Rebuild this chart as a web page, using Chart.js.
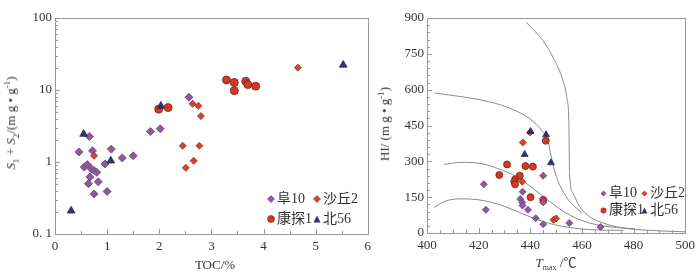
<!DOCTYPE html>
<html>
<head>
<meta charset="utf-8">
<script src="https://cdn.jsdelivr.net/npm/chart.js@4.4.0/dist/chart.umd.min.js"></script>
<style>
  body { margin: 0; background: #fff; }
  #wrap { position: relative; width: 700px; height: 280px; overflow: hidden;
          font-family: "Liberation Serif", "Noto Sans CJK SC", serif; color: #333; }
  canvas { position: absolute; top: 0; }
  .t { position: absolute; font-size: 13px; white-space: nowrap; line-height: 1; }
  .rot { transform: translate(-50%, -50%) rotate(-90deg); }
  .lg { position: absolute; display: flex; align-items: center; white-space: nowrap; line-height: 1; }
  .lg svg { margin-right: 2px; }
  i { font-style: italic; }
</style>
</head>
<body>
<div id="wrap">
  <canvas id="left" width="376" height="280" style="left:0"></canvas>
  <canvas id="right" width="324" height="280" style="left:376px"></canvas>

  <div class="t rot" style="left:12px; top:123px;"><i>S</i><sub style="font-size:9px">1</sub> + <i>S</i><sub style="font-size:9px">2</sub>/(m g • g<sup style="font-size:9px">-1</sup>)</div>
  <div class="t" style="left:215px; top:264px; transform:translate(-50%,-50%);">TOC/%</div>

  <div class="t rot" style="left:384px; top:124px;">HI/ (m g • g<sup style="font-size:9px">-1</sup>)</div>
  <div class="t" style="left:556px; top:264px; transform:translate(-50%,-50%);"><i>T</i><sub style="font-size:8px">max</sub> /℃</div>

  <!-- left legend -->
  <div class="lg" style="left:267px; top:192px; font-size:14px;"><svg width="8" height="8"><polygon points="4,0.5 7.5,4 4,7.5 0.5,4" fill="#8d5b9c" stroke="#6a3f78" stroke-width="0.6"/></svg>阜10</div>
  <div class="lg" style="left:313px; top:192px; font-size:14px;"><svg width="8" height="8"><polygon points="4,0.5 7.5,4 4,7.5 0.5,4" fill="#d5452b" stroke="#9a2c18" stroke-width="0.6"/></svg>沙丘2</div>
  <div class="lg" style="left:267px; top:212px; font-size:14px;"><svg width="8" height="8"><circle cx="4" cy="4" r="3.5" fill="#d03a25" stroke="#7a2015" stroke-width="0.6"/></svg>康探1</div>
  <div class="lg" style="left:313px; top:212px; font-size:14px;"><svg width="8" height="8"><polygon points="4,0.5 7.5,7.5 0.5,7.5" fill="#2f3573"/></svg>北56</div>

  <!-- right legend -->
  <div class="lg" style="left:600px; top:186px; font-size:14px;"><svg width="7" height="7"><polygon points="3.5,0.5 6.5,3.5 3.5,6.5 0.5,3.5" fill="#8d5b9c"/></svg>阜10</div>
  <div class="lg" style="left:641px; top:186px; font-size:14px;"><svg width="7" height="7"><polygon points="3.5,0.5 6.5,3.5 3.5,6.5 0.5,3.5" fill="#d5452b"/></svg>沙丘2</div>
  <div class="lg" style="left:600px; top:203px; font-size:14px;"><svg width="7" height="7"><circle cx="3.5" cy="3.5" r="3" fill="#d03a25"/></svg>康探1</div>
  <div class="lg" style="left:641px; top:203px; font-size:14px;"><svg width="7" height="7"><polygon points="3.5,0.5 6.5,6.5 0.5,6.5" fill="#2f3573"/></svg>北56</div>
</div>

<script>
// ---- left chart: TOC vs S1+S2 ----
const fu10Toc = [0.46, 0.66, 0.72, 1.08, 1.29, 1.50, 0.56, 0.62, 0.70, 0.75, 0.80, 0.96, 0.67, 0.64, 0.83, 0.75, 1.00, 1.83, 2.02, 2.57];
const fu10S   = [1.38, 2.26, 1.43, 1.51, 1.14, 1.22, 0.85, 0.92, 0.80, 0.76, 0.72, 0.94, 0.62, 0.50, 0.53, 0.36, 0.39, 2.65, 2.89, 7.94];

const shaqiuToc = [0.75, 2.45, 2.77, 2.66, 2.51, 2.64, 2.75, 2.80, 4.66];
const shaqiuS   = [1.22, 1.68, 1.68, 1.04, 0.83, 6.42, 6.02, 4.34, 20.4];

const kangToc = [1.99, 2.17, 3.29, 3.44, 3.44, 3.66, 3.70, 3.85];
const kangS   = [5.42, 5.70, 13.8, 12.7, 9.8, 13.2, 11.9, 11.3];

const bei56Toc = [0.31, 0.55, 1.07, 2.03, 5.53];
const bei56S   = [0.21, 2.44, 1.04, 6.0, 22.3];

const tocTicks = [0, 1, 2, 3, 4, 5, 6];
const sTicks = [0.1, 1, 10, 100];

// ---- right chart: Tmax vs HI ----
const fu10Tmax = [422.0, 422.8, 437.0, 436.1, 436.9, 437.0, 439.1, 442.1, 445.0, 445.0, 445.0, 455.1, 467.2];
const fu10HI   = [204, 97, 173, 142, 128, 115, 97, 62, 37, 240, 128, 42, 25];

const shaqiuTmax = [437.1, 439.9, 436.9, 449.0, 450.0];
const shaqiuHI   = [379, 421, 215, 55, 61];

const kangTmax = [431.0, 428.0, 438.1, 441.0, 435.9, 434.2, 433.8, 434.1, 440.1, 445.0, 446.0];
const kangHI   = [287, 243, 280, 278, 240, 225, 215, 204, 150, 139, 386];

const bei56Tmax = [437.8, 440.1, 446.1, 448.0];
const bei56HI   = [329, 425, 411, 294];

// kerogen boundary curves
const curveAT  = [438.4, 444.9, 449.4, 452.6, 454.3, 454.9, 455.0, 455.2, 456.5, 459.1, 462.9, 468.1, 475.8, 486.2, 500];
const curveAHI = [882, 805, 722, 639, 555, 472, 400, 250, 167, 111, 69, 42, 21, 11, 5];
const curveBT  = [403, 421.7, 430.7, 439.7, 444.9, 446.8, 448.1, 450.1, 453.9, 460];
const curveBHI = [586, 555, 528, 479, 423, 389, 319, 236, 152, 83];
const curveCT  = [406.6, 413.9, 421.7, 428.1, 434.6, 441, 447.5, 453.9, 462.9, 473.3, 480.3];
const curveCHI = [287, 296, 289, 267, 236, 187, 132, 83, 42, 23, 18];
const curveDT  = [402.7, 407.5, 413.9, 421.7, 429.4, 437.1, 444.9, 453.9, 462.9, 476];
const curveDHI = [107, 135, 143, 136, 114, 80, 48, 25, 14, 11];

const tmaxTicks = [400, 420, 440, 460, 480, 500];
const hiTicks = [0, 150, 300, 450, 600, 750, 900];

const FU = { bg: '#8d5b9c', border: '#6a3f78' };
const SQ = { bg: '#d5452b', border: '#9a2c18' };
const KT = { bg: '#d03a25', border: '#7a2015' };
const BS = { bg: '#2f3573', border: '#252a5e' };
const TICK_FONT = { family: '"Liberation Serif", serif', size: 13 };

function pts(xs, ys) {
  return xs.map((x, i) => ({ x, y: ys[i] }));
}

function range(a, b, step) {
  const out = [];
  for (let v = a; v <= b + 1e-9; v += step) out.push(+v.toFixed(6));
  return out;
}

function logMinor(min, max) {
  const out = [];
  for (let d = min; d < max; d *= 10) {
    for (let k = 1; k < 10; k++) out.push(+(d * k).toPrecision(6));
  }
  out.push(max);
  return out;
}

// box frame and inward tick marks, positioned through the scales
const frameTicks = {
  id: 'frameTicks',
  afterDraw(chart, args, opts) {
    const { ctx, chartArea: a, scales } = chart;
    const isMajor = (list, v) => list.some(m => Math.abs(m - v) < 1e-6);
    ctx.save();
    ctx.strokeStyle = '#999';
    ctx.lineWidth = 1;
    ctx.strokeRect(Math.round(a.left) + 0.5, Math.round(a.top) + 0.5,
      Math.round(a.right - a.left), Math.round(a.bottom - a.top));
    ctx.beginPath();
    opts.xMinor.forEach(v => {
      const px = Math.round(scales.x.getPixelForValue(v)) + 0.5;
      const len = isMajor(opts.xMajor, v) ? 5 : 3;
      ctx.moveTo(px, a.bottom);
      ctx.lineTo(px, a.bottom - len);
    });
    opts.yMinor.forEach(v => {
      const py = Math.round(scales.y.getPixelForValue(v)) + 0.5;
      const len = isMajor(opts.yMajor, v) ? 5 : 3;
      ctx.moveTo(a.left, py);
      ctx.lineTo(a.left + len, py);
    });
    ctx.stroke();
    ctx.restore();
  }
};

function pointSet(label, data, style, shape, radius) {
  return {
    label, data,
    pointStyle: shape,
    pointRadius: radius,
    pointHoverRadius: radius,
    backgroundColor: style.bg,
    borderColor: style.border,
    borderWidth: 0.8,
    showLine: false,
    order: 1,
  };
}

function curveSet(data) {
  return {
    data,
    showLine: true,
    pointRadius: 0,
    borderColor: '#8a8a8a',
    borderWidth: 1,
    cubicInterpolationMode: 'monotone',
    fill: false,
    order: 10,
  };
}

const noGrid = { display: false, drawTicks: false };

new Chart(document.getElementById('left'), {
  type: 'scatter',
  data: {
    datasets: [
      pointSet('北56', pts(bei56Toc, bei56S), BS, 'triangle', 4.5),
      pointSet('沙丘2', pts(shaqiuToc, shaqiuS), SQ, 'rectRot', 3.5),
      pointSet('康探1', pts(kangToc, kangS), KT, 'circle', 4),
      pointSet('阜10', pts(fu10Toc, fu10S), FU, 'rectRot', 4),
    ],
  },
  options: {
    responsive: false,
    animation: false,
    layout: { padding: { left: 0, right: 7, top: 18, bottom: 0 } },
    plugins: {
      legend: { display: false },
      tooltip: { enabled: false },
      frameTicks: {
        xMajor: tocTicks, xMinor: range(0, 6, 0.5),
        yMajor: sTicks, yMinor: logMinor(0.1, 100),
      },
    },
    scales: {
      x: {
        type: 'linear', min: 0, max: 6,
        afterBuildTicks: s => { s.ticks = tocTicks.map(v => ({ value: v })); },
        afterFit: s => { s.height = 46; },
        grid: noGrid, border: { display: false },
        ticks: { font: TICK_FONT, color: '#333', padding: 5, maxRotation: 0 },
      },
      y: {
        type: 'logarithmic', min: 0.1, max: 100,
        afterBuildTicks: s => { s.ticks = sTicks.map(v => ({ value: v })); },
        afterFit: s => { s.width = 55; },
        grid: noGrid, border: { display: false },
        ticks: {
          font: TICK_FONT, color: '#333', padding: 3,
          callback: v => (v === 0.1 ? '0. 1' : String(v)),
        },
      },
    },
  },
  plugins: [frameTicks],
});

new Chart(document.getElementById('right'), {
  type: 'scatter',
  data: {
    datasets: [
      curveSet(pts(curveAT, curveAHI)),
      curveSet(pts(curveBT, curveBHI)),
      curveSet(pts(curveCT, curveCHI)),
      curveSet(pts(curveDT, curveDHI)),
      pointSet('北56', pts(bei56Tmax, bei56HI), BS, 'triangle', 4),
      pointSet('阜10', pts(fu10Tmax, fu10HI), FU, 'rectRot', 3.5),
      pointSet('沙丘2', pts(shaqiuTmax, shaqiuHI), SQ, 'rectRot', 3.5),
      pointSet('康探1', pts(kangTmax, kangHI), KT, 'circle', 3.5),
    ],
  },
  options: {
    responsive: false,
    animation: false,
    layout: { padding: { left: 0, right: 14, top: 18, bottom: 0 } },
    plugins: {
      legend: { display: false },
      tooltip: { enabled: false },
      frameTicks: {
        xMajor: tmaxTicks, xMinor: range(400, 500, 5),
        yMajor: hiTicks, yMinor: range(0, 900, 30),
      },
    },
    scales: {
      x: {
        type: 'linear', min: 400, max: 500,
        afterBuildTicks: s => { s.ticks = tmaxTicks.map(v => ({ value: v })); },
        afterFit: s => { s.height = 47; },
        grid: noGrid, border: { display: false },
        ticks: { font: TICK_FONT, color: '#333', padding: 5, maxRotation: 0 },
      },
      y: {
        type: 'linear', min: 0, max: 900,
        afterBuildTicks: s => { s.ticks = hiTicks.map(v => ({ value: v })); },
        afterFit: s => { s.width = 51; },
        grid: noGrid, border: { display: false },
        ticks: { font: TICK_FONT, color: '#333', padding: 3 },
      },
    },
  },
  plugins: [frameTicks],
});
</script>
</body>
</html>
